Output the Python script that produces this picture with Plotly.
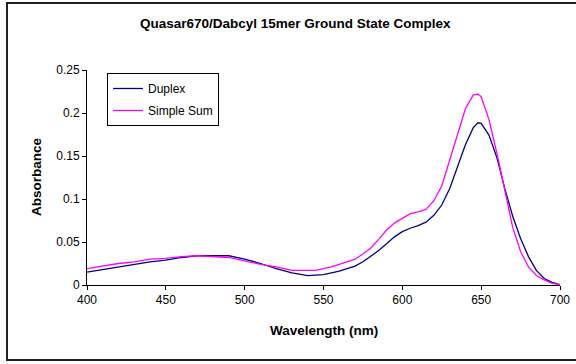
import plotly.graph_objects as go

# ---- data ----
wavelength = [400, 410, 420, 430, 440, 450, 460, 470, 480, 490, 500, 510, 520, 530,
              540, 545, 550, 555, 560, 565, 570, 575, 580, 585, 590, 595, 600, 605,
              610, 615, 620, 625, 630, 635, 640, 645, 648, 650, 655, 660, 665, 670,
              675, 680, 685, 690, 695, 700]

duplex = [0.015, 0.018, 0.021, 0.024, 0.027, 0.029, 0.032, 0.034, 0.034, 0.034, 0.030,
          0.025, 0.019, 0.014, 0.011, 0.0115, 0.012, 0.014, 0.016, 0.019, 0.022, 0.027,
          0.033, 0.040, 0.048, 0.056, 0.062, 0.066, 0.069, 0.073, 0.081, 0.093, 0.112,
          0.138, 0.163, 0.183, 0.1886, 0.188, 0.174, 0.148, 0.112, 0.080, 0.054, 0.033,
          0.017, 0.0075, 0.003, 0.0005]

simple_sum = [0.019, 0.022, 0.025, 0.027, 0.030, 0.031, 0.033, 0.034, 0.033, 0.032, 0.028,
              0.024, 0.021, 0.017, 0.017, 0.017, 0.019, 0.021, 0.024, 0.027, 0.030, 0.036,
              0.043, 0.053, 0.064, 0.072, 0.078, 0.083, 0.085, 0.088, 0.098, 0.115, 0.145,
              0.176, 0.205, 0.221, 0.222, 0.219, 0.192, 0.153, 0.108, 0.067, 0.039, 0.021,
              0.011, 0.006, 0.002, 0.0005]

series_names = ["Duplex", "Simple Sum"]
x_ticks = [400, 450, 500, 550, 600, 650, 700]
y_ticks = [0, 0.05, 0.1, 0.15, 0.2, 0.25]
y_tick_labels = ["0", "0.05", "0.1", "0.15", "0.2", "0.25"]

# ---- layout geometry (pixels) ----
W, H = 576, 364
L, R, T, B = 87, 560, 70, 285
pw, ph = R - L, B - T

def px(xp):
    return (xp - L) / pw

def py(yp):
    return (B - yp) / ph

FONT = "Liberation Sans, Arial, sans-serif"

fig = go.Figure()
fig.add_trace(go.Scatter(x=wavelength, y=duplex, mode="lines", name=series_names[0],
                         legendgroup="a",
                         line=dict(color="#000080", width=1.3)))
fig.add_trace(go.Scatter(x=wavelength, y=simple_sum, mode="lines", name=series_names[1],
                         legendgroup="b",
                         line=dict(color="#FF00FF", width=1.3)))

fig.update_layout(
    width=W, height=H, autosize=False,
    margin=dict(l=L, r=W - R, t=T, b=H - B, pad=0, autoexpand=False),
    paper_bgcolor="white", plot_bgcolor="white",
    font=dict(family=FONT, size=12, color="black"),
    showlegend=True,
    legend=dict(x=px(107), y=py(73), xanchor="left", yanchor="top",
                bordercolor="black", borderwidth=1, bgcolor="white",
                font=dict(size=12), itemwidth=30, traceorder="grouped",
                tracegroupgap=3),
    xaxis=dict(range=[400, 700], tickvals=x_ticks, showgrid=False, zeroline=False,
               showline=True, linecolor="black", linewidth=1, ticks="outside",
               ticklen=4, tickcolor="black", tickfont=dict(size=12), automargin=False),
    yaxis=dict(range=[0, 0.25], tickvals=y_ticks, ticktext=y_tick_labels, showgrid=False,
               zeroline=False, showline=True, linecolor="black", linewidth=1,
               ticks="outside", ticklen=4, tickcolor="black", tickfont=dict(size=12),
               automargin=False),
    annotations=[
        dict(text="<b>Quasar670/Dabcyl 15mer Ground State Complex</b>", xref="paper",
             yref="paper", x=px(295), y=py(23), xanchor="center", yanchor="middle",
             showarrow=False, font=dict(size=13.5)),
        dict(text="<b>Absorbance</b>", xref="paper", yref="paper", x=px(36), y=py(177),
             xanchor="center", yanchor="middle", textangle=-90, showarrow=False,
             font=dict(size=13.5)),
        dict(text="<b>Wavelength (nm)</b>", xref="paper", yref="paper", x=px(324),
             y=py(330), xanchor="center", yanchor="middle", showarrow=False,
             font=dict(size=13.5)),
    ],
    shapes=[
        dict(type="rect", xref="paper", yref="paper", x0=px(7), x1=px(600),
             y0=py(360), y1=py(3), line=dict(color="#222222", width=2),
             fillcolor="rgba(0,0,0,0)", layer="below"),
    ],
)

fig.write_html("out.html",
               config={"displayModeBar": False, "responsive": False},
               post_script="document.body.style.margin='0';document.body.style.overflow='hidden';")
